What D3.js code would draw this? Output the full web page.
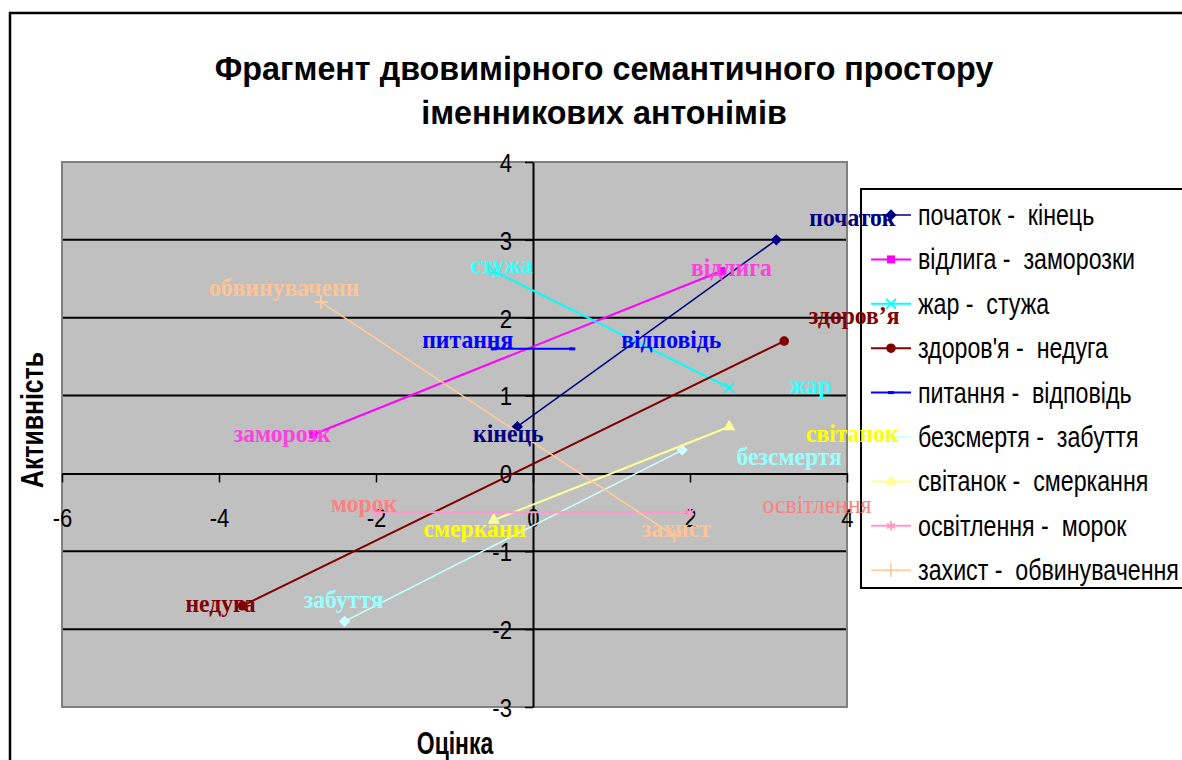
<!DOCTYPE html>
<html>
<head>
<meta charset="utf-8">
<script src="https://cdn.jsdelivr.net/npm/d3@7"></script>
<style>
  body { margin: 0; background: #fff; }
  svg { display: block; }
  text { white-space: pre; }
</style>
</head>
<body>
<svg id="chart" width="1182" height="760"></svg>
<script>
// Antonym pairs placed in a two-dimensional semantic space (Оцінка × Активність)
const pairNames = [
  "початок -  кінець",
  "відлига -  заморозки",
  "жар -  стужа",
  "здоров'я -  недуга",
  "питання -  відповідь",
  "безсмертя -  забуття",
  "світанок -  смеркання",
  "освітлення -  морок",
  "захист -  обвинувачення"
];
const firstWords  = ["початок", "відлига", "жар", "здоров’я", "питання", "безсмертя", "світанок", "освітлення", "захист"];
const secondWords = ["кінець", "заморозк", "стужа", "недуга", "відповідь", "забуття", "смерканн", "морок", "обвинуваченн"];
const firstOcinka   = [3.1, 2.4, 2.5, 3.2, -0.5, 1.9, 2.5, 2.0, 1.8];
const firstAktyv    = [3.0, 2.6, 1.1, 1.7, 1.6, 0.3, 0.6, -0.5, -0.8];
const secondOcinka  = [-0.2, -2.8, -0.5, -3.7, 0.5, -2.4, -0.5, -2.0, -2.7];
const secondAktyv   = [0.6, 0.5, 2.6, -1.7, 1.6, -1.9, -0.6, -0.5, 2.2];

const xTicks = [-6, -4, -2, 0, 2, 4];
const yTicks = [-3, -2, -1, 0, 1, 2, 3, 4];
const titleLines = ["Фрагмент двовимірного семантичного простору", "іменникових антонімів"];
const xTitle = "Оцінка";
const yTitle = "Активність";

// Series styling
const lineColors  = ["#000080", "#FF00FF", "#00FFFF", "#800000", "#0000FF", "#CCFFFF", "#FFFF99", "#FF99CC", "#FFCC99"];
const lineWidths  = [1.5, 2, 2, 2, 2, 1.5, 2, 2, 1.5];
const markerKinds = ["diamond", "square", "x", "circle", "dash", "diamond", "triangle", "asterisk", "plus"];
const labelColors = ["#000080", "#FF3FE0", "#33FFFF", "#800000", "#0000FF", "#99FFFF", "#FFFF00", "#FF8080", "#FFC495"];
// label centre offsets (px) from their points
const firstNudge  = [[76, -23], [10, -4], [81, -3], [70, -26], [-26, -10], [107, 6], [123, 6], [127, -8], [2, -8]];
const secondNudge = [[-9, 6], [-31, -1], [8, -7], [-22, -3], [99, -10], [-1, -22], [-19, 8], [-12, -9], [-37, -15]];
const firstBold   = [true, true, true, true, true, true, true, false, true];

const SANS = "'Liberation Sans', Arial, sans-serif";
const SERIF = "'Liberation Serif', 'Times New Roman', serif";
const tickScale = 0.85;
const legendScale = 0.8;
const serifScale = 0.91;

const svg = d3.select("#chart");
const plot = { left: 62, right: 847, top: 162, bottom: 707 };
const x = d3.scaleLinear().domain([-6, 4]).range([plot.left, plot.right]);
const y = d3.scaleLinear().domain([-3, 4]).range([plot.bottom, plot.top]);

// outer chart frame
svg.append("rect")
  .attr("x", 10).attr("y", 13).attr("width", 1200).attr("height", 800)
  .attr("fill", "#fff").attr("stroke", "#000").attr("stroke-width", 2.5);

// plot background
svg.append("rect")
  .attr("x", plot.left).attr("y", plot.top)
  .attr("width", plot.right - plot.left).attr("height", plot.bottom - plot.top)
  .attr("fill", "#C0C0C0");

// horizontal major gridlines
svg.append("g").selectAll("line")
  .data(yTicks.filter(v => v !== 0 && v !== y.domain()[0] && v !== y.domain()[1]))
  .join("line")
  .attr("x1", plot.left).attr("x2", plot.right)
  .attr("y1", d => y(d)).attr("y2", d => y(d))
  .attr("stroke", "#000").attr("stroke-width", 2);

// plot border
svg.append("rect")
  .attr("x", plot.left).attr("y", plot.top)
  .attr("width", plot.right - plot.left).attr("height", plot.bottom - plot.top)
  .attr("fill", "none").attr("stroke", "#808080").attr("stroke-width", 2);

// axes crossing at the origin
const plainInt = d => String(d);
const gx = svg.append("g")
  .attr("transform", `translate(0,${y(0)})`)
  .call(d3.axisBottom(x).tickValues(xTicks).tickSize(9).tickSizeOuter(0).tickFormat(plainInt));
const gy = svg.append("g")
  .attr("transform", `translate(${x(0)},0)`)
  .call(d3.axisLeft(y).tickValues(yTicks).tickSize(8).tickSizeOuter(0).tickFormat(plainInt));

[gx, gy].forEach(g => {
  g.select(".domain").attr("stroke", "#000").attr("stroke-width", 2);
  g.selectAll(".tick line").attr("stroke", "#000").attr("stroke-width", 1.5);
  g.selectAll(".tick text")
    .attr("fill", "#000")
    .style("font-family", SANS)
    .style("font-size", "26px")
    .attr("dy", "0.36em");
});
gx.selectAll(".tick text").attr("y", 44).attr("transform", `scale(${tickScale},1)`);
gy.selectAll(".tick text").attr("x", -21 / tickScale).attr("text-anchor", "end")
  .attr("transform", `scale(${tickScale},1)`);

// helper for horizontally condensed text
function condensedText(parent, str, cx, cy, opts) {
  const g = parent.append("g").attr("transform", `translate(${cx},${cy})${opts.rotate ? ` rotate(${opts.rotate})` : ""}`);
  return g.append("text")
    .attr("transform", `scale(${opts.scale},1)`)
    .attr("text-anchor", opts.anchor || "middle")
    .attr("dominant-baseline", "central")
    .style("font-family", opts.family)
    .style("font-size", opts.size + "px")
    .style("font-weight", opts.weight || "normal")
    .attr("fill", opts.fill || "#000")
    .text(str);
}

// title
titleLines.forEach((t, i) => {
  condensedText(svg, t, 604, 68 + i * 44, { family: SANS, size: 34, weight: "bold", scale: 0.95 });
});

// axis titles
condensedText(svg, xTitle, 455, 743, { family: SANS, size: 31, weight: "bold", scale: 0.74 });
condensedText(svg, yTitle, 33, 420, { family: SANS, size: 31, weight: "bold", scale: 0.8, rotate: -90 });

// marker drawing
function drawMarker(sel, kind, color, cx, cy) {
  const g = sel.append("g").attr("transform", `translate(${cx},${cy})`);
  switch (kind) {
    case "diamond":
      g.append("path").attr("d", d3.symbol(d3.symbolSquare, 64)()).attr("transform", "rotate(45)").attr("fill", color);
      break;
    case "square":
      g.append("path").attr("d", d3.symbol(d3.symbolSquare, 64)()).attr("fill", color);
      break;
    case "circle":
      g.append("path").attr("d", d3.symbol(d3.symbolCircle, 72)()).attr("fill", color);
      break;
    case "triangle":
      g.append("path").attr("d", d3.symbol(d3.symbolTriangle, 64)()).attr("fill", color);
      break;
    case "x":
      g.append("path").attr("d", d3.symbol(d3.symbolTimes, 64)()).attr("fill", "none").attr("stroke", color).attr("stroke-width", 1.8);
      break;
    case "asterisk":
      g.append("path").attr("d", d3.symbol(d3.symbolAsterisk, 64)()).attr("fill", "none").attr("stroke", color).attr("stroke-width", 1.8);
      break;
    case "plus":
      g.append("path").attr("d", d3.symbol(d3.symbolPlus, 64)()).attr("fill", "none").attr("stroke", color).attr("stroke-width", 1.8);
      break;
    case "dash":
      g.append("rect").attr("x", -3).attr("y", -1.5).attr("width", 6).attr("height", 3).attr("fill", color);
      break;
  }
}

// series lines and markers
const series = pairNames.map((name, i) => ({
  name,
  pts: [
    { ocinka: firstOcinka[i], aktyv: firstAktyv[i], word: firstWords[i], nudge: firstNudge[i], bold: firstBold[i] },
    { ocinka: secondOcinka[i], aktyv: secondAktyv[i], word: secondWords[i], nudge: secondNudge[i], bold: true }
  ],
  color: lineColors[i], width: lineWidths[i], marker: markerKinds[i], labelColor: labelColors[i]
}));

const line = d3.line().x(d => x(d.ocinka)).y(d => y(d.aktyv));
const gSeries = svg.append("g");
series.forEach(s => {
  gSeries.append("path").attr("d", line(s.pts))
    .attr("fill", "none").attr("stroke", s.color).attr("stroke-width", s.width);
  s.pts.forEach(p => drawMarker(gSeries, s.marker, s.color, x(p.ocinka), y(p.aktyv)));
});

// legend
const legend = svg.append("g");
legend.append("rect")
  .attr("x", 861).attr("y", 189).attr("width", 330).attr("height", 399)
  .attr("fill", "#fff").attr("stroke", "#000").attr("stroke-width", 2);
series.forEach((s, i) => {
  const cy = 215 + i * 44.4;
  legend.append("line").attr("x1", 871).attr("x2", 911).attr("y1", cy).attr("y2", cy)
    .attr("stroke", s.color).attr("stroke-width", s.width);
  drawMarker(legend, s.marker, s.color, 891, cy);
  condensedText(legend, s.name, 918, cy, { family: SANS, size: 29, scale: legendScale, anchor: "start" });
});

// data labels
const gLabels = svg.append("g");
series.forEach(s => {
  s.pts.forEach(p => {
    condensedText(gLabels, p.word, x(p.ocinka) + p.nudge[0], y(p.aktyv) + p.nudge[1], {
      family: SERIF, size: 26, weight: p.bold ? "bold" : "normal", scale: serifScale, fill: s.labelColor
    });
  });
});
</script>
</body>
</html>
